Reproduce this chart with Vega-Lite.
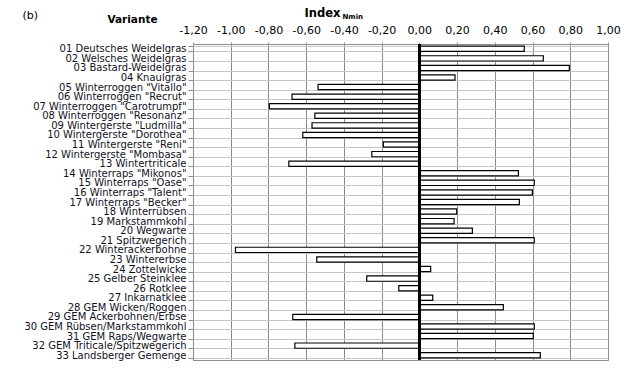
{
  "$schema": "https://vega.github.io/schema/vega-lite/v6.json",
  "autosize": "none",
  "width": 415,
  "height": 316,
  "padding": {"left": 193, "top": 44, "right": 22, "bottom": 9},
  "background": "white",
  "data": {"values": [
    {"v": "01 Deutsches Weidelgras", "idx": 0.556},
    {"v": "02 Welsches Weidelgras", "idx": 0.657},
    {"v": "03 Bastard-Weidelgras", "idx": 0.795},
    {"v": "04 Knaulgras", "idx": 0.189},
    {"v": "05 Winterroggen \"Vitallo\"", "idx": -0.537},
    {"v": "06 Winterroggen \"Recrut\"", "idx": -0.675},
    {"v": "07 Winterroggen \"Carotrumpf\"", "idx": -0.795},
    {"v": "08 Winterroggen \"Resonanz\"", "idx": -0.554},
    {"v": "09 Wintergerste \"Ludmilla\"", "idx": -0.569},
    {"v": "10 Wintergerste \"Dorothea\"", "idx": -0.618},
    {"v": "11 Wintergerste \"Reni\"", "idx": -0.191},
    {"v": "12 Wintergerste \"Mombasa\"", "idx": -0.252},
    {"v": "13 Wintertriticale", "idx": -0.692},
    {"v": "14 Winterraps \"Mikonos\"", "idx": 0.525},
    {"v": "15 Winterraps \"Oase\"", "idx": 0.609},
    {"v": "16 Winterraps \"Talent\"", "idx": 0.599},
    {"v": "17 Winterraps \"Becker\"", "idx": 0.530},
    {"v": "18 Winterrübsen", "idx": 0.198},
    {"v": "19 Markstammkohl", "idx": 0.184},
    {"v": "20 Wegwarte", "idx": 0.281},
    {"v": "21 Spitzwegerich", "idx": 0.609},
    {"v": "22 Winterackerbohne", "idx": -0.975},
    {"v": "23 Wintererbse", "idx": -0.544},
    {"v": "24 Zottelwicke", "idx": 0.060},
    {"v": "25 Gelber Steinklee", "idx": -0.279},
    {"v": "26 Rotklee", "idx": -0.109},
    {"v": "27 Inkarnatklee", "idx": 0.071},
    {"v": "28 GEM Wicken/Roggen", "idx": 0.445},
    {"v": "29 GEM Ackerbohnen/Erbse", "idx": -0.671},
    {"v": "30 GEM Rübsen/Markstammkohl", "idx": 0.609},
    {"v": "31 GEM Raps/Wegwarte", "idx": 0.604},
    {"v": "32 GEM Triticale/Spitzwegerich", "idx": -0.660},
    {"v": "33 Landsberger Gemenge", "idx": 0.641}
  ]},
  "layer": [
    {
      "mark": {"type": "bar", "fill": "white", "stroke": "black", "strokeWidth": 1.2},
      "encoding": {
        "y": {
          "field": "v", "type": "nominal", "sort": null,
          "scale": {"paddingInner": 0.45, "paddingOuter": 0.225},
          "axis": {
            "orient": "left",
            "title": "Variante",
            "titleAngle": 0,
            "titleX": -61,
            "titleY": -22,
            "titleAlign": "center",
            "titleBaseline": "alphabetic",
            "titleFontWeight": "bold",
            "titleFontSize": 10.5,
            "titleFont": "DejaVu Sans",
            "titleColor": "black",
            "tickBand": "extent",
            "grid": true,
            "gridColor": "#c6c6c6",
            "gridWidth": 1.2,
            "ticks": true,
            "tickColor": "#8c8c8c",
            "tickSize": 5,
            "domain": false,
            "labelFont": "DejaVu Sans",
            "labelFontSize": 10,
            "labelColor": "#111122",
            "labelPadding": 2,
            "labelLimit": 0
          }
        },
        "x": {
          "field": "idx", "type": "quantitative",
          "scale": {"domain": [-1.2, 1.0], "nice": false},
          "axis": {
            "orient": "top",
            "values": [-1.2, -1.0, -0.8, -0.6, -0.4, -0.2, 0, 0.2, 0.4, 0.6, 0.8, 1.0],
            "format": ".2f",
            "title": "Index",
            "titleX": 111,
            "titleY": -27.3,
            "titleAlign": "left",
            "titleBaseline": "alphabetic",
            "titleFontWeight": "bold",
            "titleFontSize": 11.5,
            "titleFont": "DejaVu Sans",
            "titleColor": "black",
            "grid": true,
            "gridColor": "#8c8c8c",
            "gridWidth": 1,
            "ticks": true,
            "tickSize": 2,
            "tickColor": "#8c8c8c",
            "domain": false,
            "labelFont": "DejaVu Sans",
            "labelFontSize": 11,
            "labelColor": "black",
            "labelBaseline": "alphabetic",
            "labelPadding": 9,
            "labelFlush": false
          }
        }
      }
    },
    {
      "mark": {"type": "bar", "opacity": 0},
      "encoding": {
        "y": {
          "field": "v", "type": "nominal", "sort": null,
          "axis": {
            "orient": "right",
            "title": "Nmin",
            "titleAngle": 0,
            "titleX": -266,
            "titleY": -26,
            "titleAlign": "left",
            "titleBaseline": "alphabetic",
            "titleFontWeight": "bold",
            "titleFontSize": 7,
            "titleFont": "DejaVu Sans",
            "titleColor": "black",
            "labels": false, "ticks": false, "domain": false, "grid": false
          }
        },
        "x": {
          "field": "idx", "type": "quantitative",
          "axis": {
            "orient": "bottom",
            "title": "(b)",
            "titleX": -171,
            "titleY": -341.5,
            "titleAlign": "left",
            "titleBaseline": "alphabetic",
            "titleFontWeight": "normal",
            "titleFontSize": 11,
            "titleFont": "DejaVu Sans",
            "titleColor": "black",
            "labels": false, "ticks": false, "domain": false, "grid": false
          }
        }
      }
    },
    {
      "mark": {"type": "rule", "color": "black", "strokeWidth": 1.5},
      "encoding": {"x": {"datum": 0, "axis": null}}
    }
  ],
  "resolve": {"axis": {"x": "independent", "y": "independent"}},
  "config": {
    "locale": {"number": {"decimal": ",", "thousands": ".", "grouping": [3], "currency": ["", " €"], "minus": "-"}},
    "view": {"stroke": "#8c8c8c", "strokeWidth": 1}
  }
}
